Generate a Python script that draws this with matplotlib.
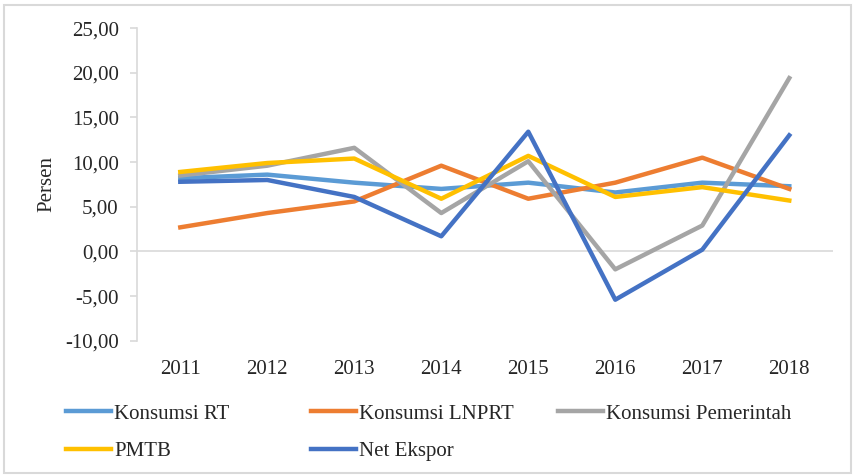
import matplotlib.pyplot as plt
from matplotlib.patches import Rectangle
from matplotlib.ticker import FuncFormatter

years = ["2011", "2012", "2013", "2014", "2015", "2016", "2017", "2018"]
konsumsi_rt = [8.2, 8.6, 7.7, 7.0, 7.7, 6.6, 7.7, 7.3]
konsumsi_lnprt = [2.7, 4.3, 5.6, 9.6, 5.9, 7.7, 10.5, 7.0]
konsumsi_pemerintah = [8.5, 9.6, 11.6, 4.3, 10.1, -2.0, 2.9, 19.4]
pmtb = [8.9, 9.9, 10.4, 5.9, 10.7, 6.1, 7.2, 5.7]
net_ekspor = [7.8, 8.0, 6.1, 1.7, 13.4, -5.4, 0.2, 13.0]

series = [
    ("Konsumsi RT", konsumsi_rt, "#5B9BD5"),
    ("Konsumsi LNPRT", konsumsi_lnprt, "#ED7D31"),
    ("Konsumsi Pemerintah", konsumsi_pemerintah, "#A5A5A5"),
    ("PMTB", pmtb, "#FFC000"),
    ("Net Ekspor", net_ekspor, "#4472C4"),
]

plt.rcParams['font.family'] = ['Liberation Serif', 'DejaVu Serif']
txt = '#262626'
grid = '#D9D9D9'
fs = 15

fig = plt.figure(figsize=(8.55, 4.76), dpi=100)
ax = fig.add_axes([0.160, 0.284, 0.814, 0.657])

x = list(range(len(years)))
handles = {}
for name, vals, col in series:
    ln, = ax.plot(x, vals, color=col, lw=3.2, label=name)
    handles[name] = ln

ax.set_xlim(-0.5, len(years) - 0.5)
ax.set_ylim(-10, 25)
ax.set_yticks([-10, -5, 0, 5, 10, 15, 20, 25])
ax.yaxis.set_major_formatter(FuncFormatter(lambda v, p: f"{v:.2f}".replace(".", ",")))
ax.axhline(0, color=grid, lw=1.2, zorder=0)

ax.set_xticks(x)
ax.set_xticklabels(years)
for s in ["top", "right", "bottom"]:
    ax.spines[s].set_visible(False)
ax.spines["left"].set_color(grid)
ax.spines["left"].set_linewidth(1.2)
ax.tick_params(axis='x', length=0, pad=14, labelsize=fs, labelcolor=txt)
ax.tick_params(axis='y', length=5, width=1.2, color=grid, pad=8, labelsize=fs, labelcolor=txt)
ax.set_ylabel("Persen", fontsize=fs, color=txt, labelpad=6)

# legend in three columns like the Excel layout
cols = [
    (66, ["Konsumsi RT", "PMTB"]),
    (311, ["Konsumsi LNPRT", "Net Ekspor"]),
    (558, ["Konsumsi Pemerintah"]),
]
for xpix, names in cols:
    leg = fig.legend([handles[n] for n in names], names,
                     loc='upper left', bbox_to_anchor=(xpix / 855, 1 - 404 / 476),
                     frameon=False, fontsize=fs, handlelength=2.15,
                     handletextpad=0.15, labelspacing=0.85, borderpad=0,
                     borderaxespad=0)
    for t in leg.get_texts():
        t.set_color(txt)

fig.patches.append(Rectangle((4 / 855, 3 / 476), 847 / 855, 468 / 476,
                             transform=fig.transFigure, fill=False,
                             edgecolor=grid, lw=1.5))

fig.savefig("out.png", dpi=100)
